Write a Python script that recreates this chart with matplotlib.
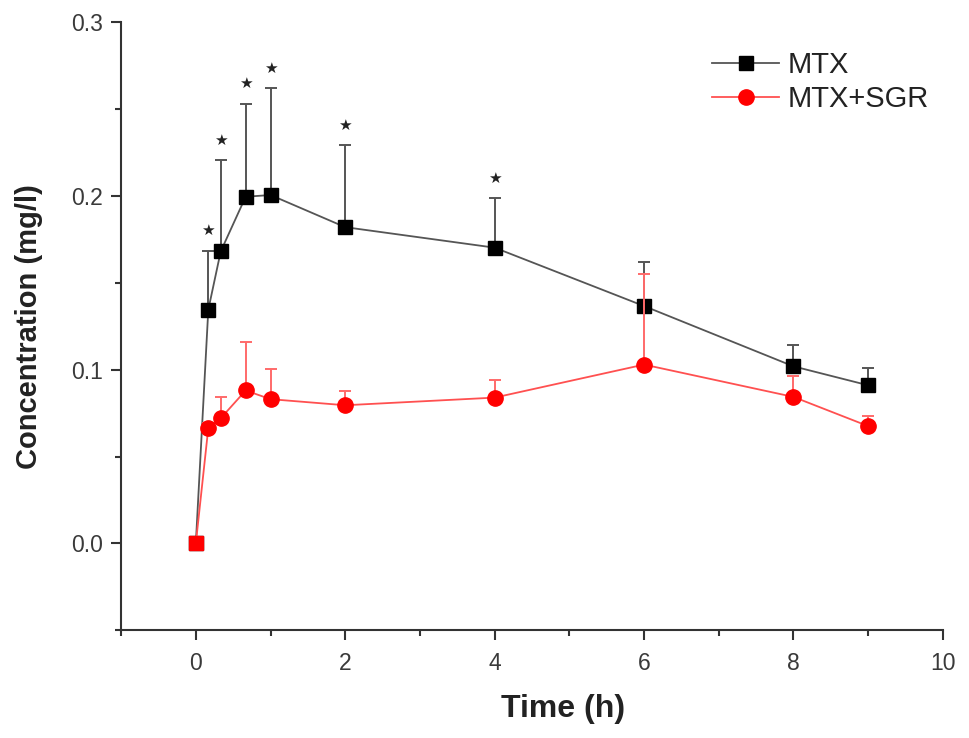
import matplotlib
matplotlib.use("Agg")
import matplotlib.pyplot as plt
import numpy as np
from matplotlib.ticker import MultipleLocator

# ---- data ----
time_h = [0, 0.167, 0.333, 0.667, 1, 2, 4, 6, 8, 9]
mtx_mean = [0.0, 0.1345, 0.168, 0.1995, 0.2005, 0.182, 0.1702, 0.1366, 0.1019, 0.091]
mtx_err = [0.0, 0.034, 0.0525, 0.0535, 0.0615, 0.047, 0.0286, 0.0254, 0.0125, 0.0101]
sgr_mean = [0.0, 0.0664, 0.072, 0.088, 0.083, 0.0795, 0.0839, 0.1029, 0.0843, 0.0675]
sgr_err = [0.0, 0.003, 0.0122, 0.0277, 0.0172, 0.0082, 0.0099, 0.0524, 0.0118, 0.0058]
significant = [False, True, True, True, True, True, True, False, False, False]
series_labels = ["MTX", "MTX+SGR"]
x_label = "Time (h)"
y_label = "Concentration (mg/l)"

plt.rcParams['font.family'] = ['Liberation Sans', 'DejaVu Sans']

fig = plt.figure(figsize=(9.69, 7.38), dpi=100)
ax = fig.add_axes([0.125, 0.146, 0.848, 0.824])

t = np.array(time_h)
m1, e1 = np.array(mtx_mean), np.array(mtx_err)
m2, e2 = np.array(sgr_mean), np.array(sgr_err)

# MTX series
ax.errorbar(t, m1, yerr=[np.zeros_like(e1), e1], fmt='none', ecolor='#555555',
            elinewidth=1.4, capsize=4, capthick=1.4, zorder=2)
ax.plot(t, m1, color='#555555', lw=1.3, marker='s', ms=10, mfc='black',
        mec='black', label=series_labels[0], zorder=3)

# MTX+SGR series
ax.errorbar(t, m2, yerr=[np.zeros_like(e2), e2], fmt='none', ecolor='#ff6a6a',
            elinewidth=1.4, capsize=4, capthick=1.4, zorder=4)
ax.plot(t, m2, color='#ff5050', lw=1.3, marker='o', ms=11, mfc='#ff0000',
        mec='#ff0000', markevery=list(range(1, len(t))), label=series_labels[1], zorder=5)
ax.plot(t[:1], m2[:1], ls='none', marker='s', ms=10, mfc='#ff0000', mec='#ff0000', zorder=6)

# significance stars
for ti, mi, ei, s in zip(t, m1, e1, significant):
    if s:
        ax.annotate('\u2605', xy=(ti, mi + ei), xytext=(0, 9), textcoords='offset points',
                    ha='center', va='bottom', fontsize=11, color='#222222',
                    family='DejaVu Sans')

ax.set_xlim(-1, 10)
ax.set_ylim(-0.05, 0.3)
ax.xaxis.set_major_locator(MultipleLocator(2))
ax.xaxis.set_minor_locator(MultipleLocator(1))
ax.yaxis.set_major_locator(MultipleLocator(0.1))
ax.yaxis.set_minor_locator(MultipleLocator(0.05))
ax.set_xticks([0, 2, 4, 6, 8, 10])
ax.set_yticks([0.0, 0.1, 0.2, 0.3])
ax.set_yticklabels(['0.0', '0.1', '0.2', '0.3'])

for side in ['top', 'right']:
    ax.spines[side].set_visible(False)
for side in ['left', 'bottom']:
    ax.spines[side].set_linewidth(1.5)
    ax.spines[side].set_color('#333333')

ax.tick_params(which='major', direction='out', length=7, width=1.5, color='#333333',
               labelsize=16.5, labelcolor='#3a3a3a')
ax.tick_params(axis='x', which='major', pad=9)
ax.tick_params(axis='y', which='major', pad=6)
ax.tick_params(which='minor', direction='out', length=4, width=1.5, color='#333333')

ax.set_xlabel(x_label, fontsize=23, fontweight='bold', color='#222222')
ax.xaxis.set_label_coords((563 - 121) / 822, -0.105)
ax.xaxis.label.set_va('top')
ax.set_ylabel(y_label, fontsize=21, fontweight='bold', color='#222222', labelpad=20)

leg = ax.legend(loc='upper left', bbox_to_anchor=(712 / 969, 1 - 51 / 738),
                bbox_transform=fig.transFigure, frameon=False, fontsize=21,
                borderpad=0, borderaxespad=0,
                handlelength=2.3, handletextpad=0.3, labelspacing=0.2, labelcolor='#222222')

fig.savefig('out.png', dpi=100)
